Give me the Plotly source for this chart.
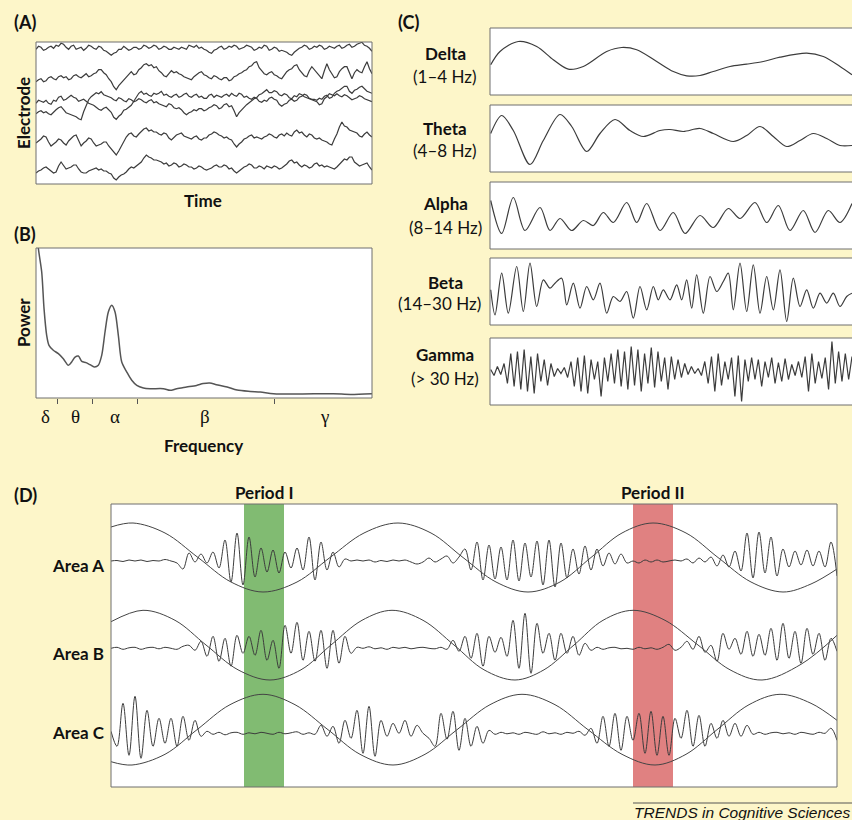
import numpy as np
import plotly.graph_objects as go

W, H = 852, 820
BG = "#FDF6C9"
INK = "#111111"
TRACE = "#3c3c3c"
FRAME = "#6e6e6e"

# ---------------- Panel A: raw EEG, six electrodes (deviation in px units) ----------------
electrode_1 = [-1, 2, 1, -2, -1, 1, 2, 0, 3, 2, 5, 4, 1, -1, 2, 3, -1, 0, 1, -2,
               0, 3, 2, 0, -1, 2, 1, -2, -3, -5, -7, -5, -4, -1, -1, 2, 0, -2, -1, 1,
               1, -1, 0, 3, 2, 0, 1, 3, 2, -1, 0, 2, 1, -1, -1, 1, 0, -1, 1, 0,
               -1, 3, 2, 1, 3, 0, 1, -1, -2, -4, -5, -2, -1, 1, 2, -1, 0, 2, 1, 3,
               2, -1, 0, 1, 3, 2, 1, -2, -1, 1, 0, 3, 2, -2, -1, 1, 0, -3, -2, -3,
               -4, -6, -7, -4, -2, 0, 1, 3, 2, -1, 0, 2, 1, 3, 2, -1, 0, 2, 1, 0,
               2, 3, 0, 1, 3, 4, 1, 2, 4, 5, 6, 3, 2, 0, -3]
electrode_2 = [-5, -3, -2, -5, -4, -1, 0, -2, -3, 0, 1, -1, 0, -3, -2, 1, 2, 0, -1, 1,
               3, 0, 1, 3, 4, 7, 7, 4, 2, -2, -5, -10, -13, -9, -6, -3, -1, 3, 5, 2,
               3, 7, 9, 12, 13, 11, 12, 9, 10, 6, 4, 1, 0, 3, 6, 4, 5, 3, 2, 0,
               -1, -2, -3, 0, 2, 4, 5, 2, 1, -1, -2, 1, 0, -2, -3, -1, -1, -4, -3, 0,
               1, 3, 4, 6, 7, 10, 11, 14, 15, 9, 6, 3, 2, 4, 5, 2, 1, -1, -2, 2,
               5, 7, 8, 11, 12, 7, 4, 1, 0, 6, 10, 7, 5, 1, -2, 6, 13, 7, 3, -1,
               0, 5, 8, 10, 10, 3, -2, 4, 7, 5, 4, 10, 15, 8, 3]
electrode_3 = [-5, -2, -3, -4, -2, -5, -6, -2, -3, 1, 2, -2, -1, 1, 3, 1, 0, -3, -2, -1,
               -3, -5, -6, -7, -9, -11, -12, -10, -9, -12, -14, -19, -21, -18, -16, -12, -11, -9, -7, -3,
               1, 5, 7, 4, 5, 3, 2, 5, 4, 5, 7, 3, 4, 2, 1, 3, 4, 1, 2, 4,
               5, 2, 1, 3, 4, 1, 2, 0, 0, 3, 4, 1, 3, 2, 1, 3, 4, 2, 5, 3,
               2, 5, 4, 1, 2, 0, -1, 1, 0, -3, -4, -2, -3, 0, 1, -1, -2, -6, -8, -6,
               -5, -2, -1, -3, -2, 1, 2, 4, 3, 0, -1, -1, -2, 0, -1, 2, 3, 0, 1, 5,
               7, 8, 10, 12, 12, 7, 5, 8, 9, 11, 12, 9, 7, 6, 5]
electrode_4 = [-7, -5, -4, -6, -5, -7, -8, -5, -3, -1, 0, -3, -6, -7, -8, -9, -10, -12, -13, -5,
               2, 7, 10, 12, 14, 13, 15, 12, 11, 10, 9, 7, 6, 9, 8, 6, 5, 8, 7, 5,
               6, 8, 7, 5, 4, 6, 7, 4, 5, 3, 2, 1, 0, 3, 2, -1, -2, -1, -3, -6,
               -8, -6, -5, -3, -4, -2, -2, -4, -3, -1, 0, 2, 1, -2, -1, 2, 3, 0, 1, -4,
               -10, -6, -3, -1, 2, 4, 6, 8, 9, 12, 13, 15, 17, 14, 14, 16, 15, 12, 11, 13,
               12, 9, 8, 11, 10, 13, 12, 10, 9, 8, 7, 6, 5, 2, 3, 8, 10, 13, 12, 11,
               13, 11, 10, 12, 11, 9, 7, 8, 9, 11, 10, 8, 7, 6, 5]
electrode_5 = [-3, -1, 1, 4, 3, -2, -6, -4, -2, 1, 0, -3, -5, -1, 2, 4, 5, -1, -6, -3,
               -1, 2, 1, -3, -6, -5, -4, -2, -2, -6, -9, -13, -15, -11, -6, -1, 3, 6, 7, 4,
               3, 6, 9, 11, 12, 9, 10, 8, 8, 6, 5, 7, 6, 2, 0, 3, 5, 6, 7, 4,
               3, 2, 1, 3, 4, 1, 0, 2, 2, 5, 6, 8, 7, 5, 4, 2, 3, 1, 0, -4,
               -7, -4, -2, 1, 2, 4, 5, 2, 3, 2, 1, 3, 4, 6, 5, 3, 2, 5, 6, 4,
               7, 5, 4, 8, 10, 7, 8, 5, 3, 6, 5, 2, 1, 2, 0, -1, -2, -4, -5, 1,
               6, 13, 18, 14, 13, 10, 9, 8, 7, 4, 3, 6, 8, 5, 3]
electrode_6 = [-3, -1, 0, 2, 3, 1, -1, -3, -2, 4, 8, 4, 1, 2, 3, 5, 5, 1, -2, -3,
               -3, -1, 0, 1, 2, 0, 1, -1, -1, -3, -4, -8, -10, -7, -5, -4, -2, 1, 3, 2,
               4, 6, 8, 12, 15, 13, 12, 10, 10, 9, 8, 6, 7, 4, 5, 7, 6, 3, 4, 6,
               5, 3, 3, 1, 2, 4, 3, 1, 0, 1, 2, 4, 5, 3, 3, 5, 4, 1, 2, -1,
               -3, -1, 1, 3, 4, 6, 5, 2, 2, 4, 3, 1, 4, 3, 2, 4, 3, 1, 2, 4,
               6, 9, 10, 7, 8, 5, 3, 5, 4, 2, 3, 6, 7, 4, 5, 3, 4, 3, 2, 1,
               3, 6, 8, 11, 10, 13, 13, 8, 6, 4, 5, 6, 7, 3, 0]
electrode_traces = [electrode_1, electrode_2, electrode_3, electrode_4, electrode_5, electrode_6]
electrode_baselines = [135.7, 107.3, 85.7, 77.3, 44.0, 14.0]

# ---------------- Panel B: power spectrum ----------------
spectrum_freq = [1.35, 1.48, 1.89, 2.17, 2.49, 2.77, 3.29, 3.90, 4.50, 5.11, 5.51, 5.92, 6.32,
                 6.73, 7.25, 7.73, 8.25, 8.73, 9.14, 9.54, 9.94, 10.35, 10.75, 11.15, 11.56,
                 12.17, 12.77, 13.38, 14.18, 14.98, 16.59, 17.40, 18.2, 19.4, 20.6, 21.4, 22.2,
                 23.0, 24.3, 25.5, 27.1, 28.3, 29.9, 33.1, 37.1, 39.2, 41.8]
spectrum_power = [112, 100, 84, 59.6, 41.8, 35.1, 31.8, 29.6, 26.2, 21.8, 24, 27.3, 28,
                  24.4, 23.6, 22.2, 20.7, 21.8, 28.4, 44, 57.3, 61.8, 57.3, 41.8, 24,
                  17.3, 11.8, 8.4, 6.7, 6.2, 6.2, 5.1, 6.2, 7.3, 8.4, 9.6, 10,
                  8.9, 7.3, 5.3, 4.4, 4.0, 2.9, 2.7, 2.9, 2.4, 2.9]
band_edges = [3.8, 8, 13.5, 30]
band_symbols = ["δ", "θ", "α", "β", "γ"]
band_symbol_freq = [2.3, 6.0, 10.75, 21.6, 36.1]

# ---------------- Panel C: filtered rhythms ----------------
rhythm_names = ["Delta", "Theta", "Alpha", "Beta", "Gamma"]
rhythm_ranges = ["(1–4 Hz)", "(4–8 Hz)", "(8–14 Hz)", "(14–30 Hz)", "(> 30 Hz)"]
delta_t = [0.7, 10, 28.3, 46.7, 63.3, 78.3, 93.3, 116.7, 131.7, 146.7, 166.7, 183.3, 196.7,
           210, 223.3, 240, 256.7, 273.3, 290, 316.7, 333.3, 350, 362]
delta_v = [-3.3, 10, 20, 15, 1.7, -7.7, -5, 10, 14, 11.7, 0, -10, -14.3,
           -14, -10, -5, -2.7, 0, 4.3, 8.3, 5, -5, -13.3]
theta_t = [0.7, 11.7, 23.3, 40, 53.3, 70, 81.7, 96.7, 110, 125, 140, 153.3, 170, 180,
           193.3, 210, 223.3, 243.3, 256.7, 270, 283.3, 296.7, 310, 323.3, 336.7, 350, 362]
theta_v = [5, 23, 8, -26, -2, 24, 12, -13, 5, 19, 8, 2, 8, 9,
           7, 10, 5, -3, 3, 12, 2, -8, -2, 5, 0, -7, -7]
alpha_t = [0.7, 11.7, 23.3, 35, 50, 60, 70, 81.7, 93.3, 103.3, 113.3, 123.3, 136.7, 146.7,
           156.7, 170, 183.3, 195, 210, 223.3, 238.3, 250, 265, 276.7, 288.3, 300, 313.3,
           325, 338.3, 350, 362]
alpha_v = [15, -18, 18, -15, 8, -15, -3, -15, -5, -10, 3, -7, 13, -7,
           12, -15, 3, -18, 0, -12, 7, -3, 13, -7, 10, -15, 5,
           -17, 5, -7, 12]
beta_t = [0.7, 5, 11.7, 18.3, 26.7, 33.3, 40, 46.7, 53.3, 60, 65, 71.7, 76.7, 83.3, 90, 96.7,
          103.3, 110, 116.7, 123.3, 130, 136.7, 143.3, 150, 156.7, 163.3, 168.3, 173.3, 180,
          186.7, 191.7, 196.7, 201.7, 206.7, 213.3, 220, 226.7, 233.3, 238.3, 243.3, 250,
          256.7, 263.3, 270, 276.7, 283.3, 290, 296.7, 303.3, 310, 316.7, 323.3, 330, 336.7,
          343.3, 350, 356.7, 362]
beta_v = [1.7, -23.3, 18.3, -21.7, 25, -20, 28.3, -15, 11.7, 3.3, 8.3, 13.3, -13.3, 8.3,
          -16.7, 5, -8.3, 8.3, -21.7, -5, -10, 0, -26.7, 5, -18.3, 5, -8.3, 1.7, -8.3, 6.7,
          -8.3, 11.7, -16.7, 16.7, -21.7, 15, 0, 10, 18.3, -18.3, 28.3, -20, 26.7, -21.7,
          15, -18.3, 21.7, -30, 13.3, -15, 1.7, -16.7, -1.7, -11.7, -1.7, -15, -5, -1.7]
gamma_v = [2, -4, 5, -3, 8, -12, 18, -15, 20, -18,
           22, -20, 15, -22, 18, -10, 12, -14, 8, -5,
           3, -2, 4, -6, 10, -15, 14, -20, 16, -22,
           12, -8, 10, -25, 14, -10, 18, -12, 22, -15,
           20, -18, 25, -14, 22, -20, 18, -12, 24, -16,
           20, -10, 14, -18, 15, -8, 12, -6, 8, -3,
           5, -2, 3, -4, 10, -12, 15, -20, 18, -14,
           10, -8, 14, -25, 16, -30, 12, -10, 14, -8,
           12, -15, 10, -6, 14, -12, 9, -10, 13, -8,
           7, -4, 10, -6, 15, -20, 18, -12, 10, -7,
           14, -18, 30, -12, 20, -10, 18, -8, 15]
gamma_t = list(np.linspace(0.7, 362, len(gamma_v)))

# ---------------- Panel D: cross-frequency coupling ----------------
area_names = ["Area A", "Area B", "Area C"]
area_a_fast = [0, 0.5, -0.5, 1, 0, 1, -0.5, 0.5, 0, 1.5, 0, -2, -8, 8, -1, 7, -2, 9, -7, 21,
               -21, 28, -24, 24, -16, 13, -11, 11, -12, 9, -7, 13, -9, 24, -19, 19, -9, 9, -6, 2,
               0, 1, 0,
               1, -1, 0.5, -0.5, 1, 0, 1, -1, -3, -1, 3,
               -1, 2, 5, -2, 4, 12, -9, 19, -19, 16, -18, 14, -19, 21, -20, 18, -16, 20, -24, 21,
               -26, 18, -17, 12, -13, 15, -9, 12, -5, 8, -3, 7, -2,
               0, -2, 1, -1, 1, -1, 0, 1, 0, 2, -2, 3, -1, 4, -5, 6, -6, 10, -10, 28,
               -17, 29, -12, 24, -15, 12, -6, 10, -4, 11, -5, 10, -6, 19, -15]
area_b_fast = [0, 1, -1, 0.5, 1, -1, 0.5, 1, -0.5, 1, 0, -1, 2, 3, -2,
               7, -8, 12, -13, 10, -18, 13, -5, 12, -7, 18, -12, 8, -20, 23, -5, 26, -12, 17, -13,
               18, -20, 18, -15, 12, -5, 1,
               0, 1.5, -0.5, 0.5, -1, 1, 0, 1, -0.5, 0.5, 1, 0,
               -0.5, 1, -1,
               8, -3, 12, -10, 15, -18, 12, -4, 11, -8, 28, -20, 35, -25, 25, -5, 15, -12, 15, -5,
               12, -7, 5, -2,
               1, -1, 0.5, 1, -0.5, 0, -1, 1, -0.5, 0.5, -1, 1, 4, -2, 1,
               7, -1, 12, -4, 3, -13, 15, -1, 10, -6, 17, -8, 14, -7, 20, -12, 25, -10, 17, -15,
               20, -6, 15, -12, 10, -3]
area_c_fast = [2, -13, 30, -22, 37, -25, 23, -13, 15, -10, 15, -13, 17, -7, 13, -3,
               2, -1, 1, -1.5, 0.5, 1, -1, 0.5, -0.5, 1, 0, -1, 1, -0.5, 0.5, 1.5, -1, 0.5,
               -1, 8, -3, 7, -10, 13, -5, 23, -20, 27, -23, 13, -3, 10, 0, 13, -3, 8, 0, -5,
               -13, 20, -6, 22, -17, 15, -13, 7, -10, 3, -1,
               1, -0.5, 0.5, -1, 1, 0, -1, 1.5, -0.5, 0.5, -1, 1, 0, 2, -2,
               5, -10, 17, -13, 20, -17, 17, -7, 20, -20, 22, -22, 17, -22, 15, -5, 23, -13, 18, -13,
               10, -5, 13, -3, 10, -3, 8, -1,
               1, -1, 0.5, 1, -0.5, 0.5, -1, 1, 0, -1, 1, 0, 5, -7]
area_fast = [area_a_fast, area_b_fast, area_c_fast]
area_a_slow_t = [0, 22, 54, 87, 120, 152, 186, 219, 253, 287, 320, 352, 385, 417, 449, 480,
                 511, 542, 575, 607, 640, 672, 700, 726]
area_a_slow_v = [34, 38, 28, 3.5, -21, -31, -21, 3.5, 28, 38, 28, 3.5, -21, -31, -21, 3.5,
                 28, 38, 28, 3.5, -21, -31, -23, -8]
area_b_slow_t = [0, 32, 64, 95, 127, 159, 190, 220, 251, 281, 312, 343, 373, 404, 433, 463,
                 492, 522, 554, 587, 619, 651, 690, 726]
area_b_slow_v = [26.6, 38, 28, 3.3, -21.5, -31.7, -21.5, 3.3, 28, 38, 28, 3.3, -21.5, -31.7,
                 -21.5, 3.3, 28, 38, 28, 3.3, -21.5, -31.7, -16, 13]
area_c_slow_t = [0, 21, 54, 86, 119, 152, 184, 217, 249, 282, 314, 346, 379, 411, 444, 477,
                 511, 544, 575, 606, 638, 669, 700, 726]
area_c_slow_v = [-28.4, -31.7, -21, 3.6, 28.6, 39, 28.6, 3.6, -21, -31.7, -21, 3.6, 28.6, 39,
                 28.6, 3.6, -21, -31.7, -21, 3.6, 28.6, 39, 30, 13]
area_slow_t = [area_a_slow_t, area_b_slow_t, area_c_slow_t]
area_slow_v = [area_a_slow_v, area_b_slow_v, area_c_slow_v]
area_baselines = [226.0, 138.7, 53.7]
period_names = ["Period I", "Period II"]
period_start = [133, 522]
period_end = [173, 562]
period_colors = ["rgba(122,183,106,0.95)", "rgba(222,122,122,0.95)"]


# ---------------- helpers ----------------
def dx(x0, x1):
    return [x0 / W, x1 / W]


def dy(y0, y1):
    return [1 - y1 / H, 1 - y0 / H]


fig = go.Figure()
layout = dict(width=W, height=H, margin=dict(l=0, r=0, t=0, b=0),
              paper_bgcolor=BG, plot_bgcolor="white", showlegend=False,
              font=dict(family="Lato", color=INK))
shapes, annotations = [], []


def add_axes(n, xdom, ydom, xr, yr):
    xs = "xaxis" if n == 1 else f"xaxis{n}"
    ys = "yaxis" if n == 1 else f"yaxis{n}"
    layout[xs] = dict(domain=dx(*xdom), range=xr, visible=False, anchor=f"y{'' if n == 1 else n}",
                      fixedrange=True)
    layout[ys] = dict(domain=dy(*ydom), range=yr, visible=False, anchor=f"x{'' if n == 1 else n}",
                      fixedrange=True)


def frame(n, x1=1.0):
    sx = "x" if n == 1 else f"x{n}"
    sy = "y" if n == 1 else f"y{n}"
    shapes.append(dict(type="rect", xref=f"{sx} domain", yref=f"{sy} domain", x0=0, x1=x1,
                       y0=0, y1=1, line=dict(color=FRAME, width=1), fillcolor="rgba(0,0,0,0)",
                       layer="above"))


def ann(text, x, y, size=17, xanchor="center", angle=0, family="Lato", italic=False):
    annotations.append(dict(text=text, x=x / W, y=1 - y / H, xref="paper", yref="paper",
                            showarrow=False, xanchor=xanchor, yanchor="middle", textangle=angle,
                            font=dict(size=size, family=family, color=INK,
                                      style="italic" if italic else "normal")))


def line_trace(x, y, n, color=TRACE, width=1.0, shape="linear", smoothing=1.0):
    fig.add_trace(go.Scatter(x=x, y=y, mode="lines", xaxis="x" if n == 1 else f"x{n}",
                             yaxis="y" if n == 1 else f"y{n}",
                             line=dict(color=color, width=width, shape=shape,
                                       smoothing=smoothing if shape == "spline" else None),
                             hoverinfo="skip"))


# ---------------- Panel A ----------------
add_axes(1, (36, 372), (42, 184), [0, 1], [0, 142])
for vals, base in zip(electrode_traces, electrode_baselines):
    t = np.linspace(0, 1, len(vals))
    line_trace(t, np.array(vals, float) + base, 1, width=1.2)
frame(1)
ann("<b>(A)</b>", 12, 22, size=18, xanchor="left")
ann("<b>Electrode</b>", 23, 113, angle=-90)
ann("<b>Time</b>", 203, 200)

# ---------------- Panel B ----------------
add_axes(2, (36, 372), (248, 398), [1.2, 41.8], [0, 100])
layout["xaxis2"].update(visible=True, showticklabels=False, ticks="outside", tickvals=band_edges,
                        ticklen=5, tickwidth=1, tickcolor="#555", showline=False,
                        showgrid=False, zeroline=False)
line_trace(spectrum_freq, spectrum_power, 2, color="#555555", width=1.5, shape="spline",
           smoothing=0.8)
frame(2)
for sym, f in zip(band_symbols, band_symbol_freq):
    annotations.append(dict(text=sym, x=f, xref="x2", y=1 - 416 / H, yref="paper",
                            showarrow=False, yanchor="middle",
                            font=dict(size=19, family="Liberation Serif", color=INK)))
ann("<b>(B)</b>", 12, 234, size=18, xanchor="left")
ann("<b>Power</b>", 23, 323, angle=-90)
ann("<b>Frequency</b>", 203, 445)

# ---------------- Panel C ----------------
c_boxes = [(28, 95), (105, 172), (182, 249), (258, 325), (338, 405)]
c_series = [(delta_t, delta_v, "spline"), (theta_t, theta_v, "spline"),
            (alpha_t, alpha_v, "spline"), (beta_t, beta_v, "spline"),
            (gamma_t, gamma_v, "linear")]
name_y = [53, 128, 203, 282, 355]
range_y = [77, 151, 227, 303, 378]
range_x = [445, 445, 445, 439, 445]
for k, ((y0, y1), (t, v, shp)) in enumerate(zip(c_boxes, c_series)):
    n = 3 + k
    add_axes(n, (490, 852), (y0, y1), [0, 362], [-33.5, 33.5])
    line_trace(t, v, n, width=1.2, shape=shp, smoothing=0.9)
    frame(n, x1=1.1)
    ann(f"<b>{rhythm_names[k]}</b>", 445, name_y[k])
    ann(rhythm_ranges[k], range_x[k], range_y[k])
ann("<b>(C)</b>", 396, 22, size=18, xanchor="left")

# ---------------- Panel D ----------------
add_axes(8, (111, 837), (504, 787), [0, 726], [0, 283])
for s, e, col in zip(period_start, period_end, period_colors):
    shapes.append(dict(type="rect", xref="x8", yref="y8 domain", x0=s, x1=e, y0=0, y1=1,
                       fillcolor=col, line=dict(width=0), layer="below"))
for fast, st, sv, base in zip(area_fast, area_slow_t, area_slow_v, area_baselines):
    t = np.linspace(0, 726, len(fast))
    line_trace(t, np.array(fast, float) + base, 8, width=1.0, shape="spline", smoothing=1.0)
    line_trace(st, np.array(sv, float) + base, 8, color="#444444", width=1.0, shape="spline",
               smoothing=1.0)
frame(8)
for name, s, e in zip(period_names, period_start, period_end):
    annotations.append(dict(text=f"<b>{name}</b>", x=(s + e) / 2, xref="x8", y=1 - 492 / H,
                            yref="paper", showarrow=False, yanchor="middle",
                            font=dict(size=17, family="Lato", color=INK)))
for name, yy in zip(area_names, [565, 653, 732]):
    ann(f"<b>{name}</b>", 78, yy)
ann("<b>(D)</b>", 12, 495, size=18, xanchor="left")

# ---------------- footer ----------------
shapes.append(dict(type="line", xref="paper", yref="paper", x0=633 / W, x1=1.0,
                   y0=1 - 803 / H, y1=1 - 803 / H, line=dict(color="#555", width=1)))
ann("TRENDS in Cognitive Sciences", 632, 812, size=15.5, xanchor="left",
    family="Liberation Sans", italic=True)

layout["shapes"] = shapes
layout["annotations"] = annotations
fig.update_layout(**layout)
fig.write_html("out.html", config={"displayModeBar": False},
               post_script="document.body.style.margin='0';document.body.style.overflow='hidden';")
